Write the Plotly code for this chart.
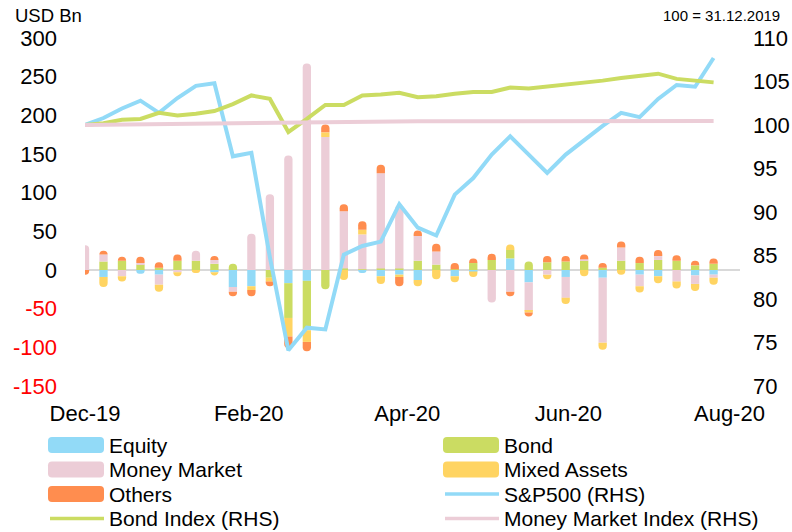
import plotly.graph_objects as go

# ---------------- data ----------------
dates = ["2019-12-01", "2019-12-08", "2019-12-15", "2019-12-22", "2019-12-29",
         "2020-01-05", "2020-01-12", "2020-01-19", "2020-01-26", "2020-02-02",
         "2020-02-09", "2020-02-16", "2020-02-23", "2020-03-01", "2020-03-08",
         "2020-03-15", "2020-03-22", "2020-03-29", "2020-04-05", "2020-04-12",
         "2020-04-19", "2020-04-26", "2020-05-03", "2020-05-10", "2020-05-17",
         "2020-05-24", "2020-05-31", "2020-06-07", "2020-06-14", "2020-06-21",
         "2020-06-28", "2020-07-05", "2020-07-12", "2020-07-19", "2020-07-26"]

equity = [0, -9, 0, -5, -6, 0, 0, -3, -22, -21, 0, -17, -14, 0, 0, -4, -8, -6,
          -13, 0, -8, -2, 0, 15, -16, 0, -9, 0, -10, 0, -6, -8, 0, -7, -6]
bond = [0, 11, 12, 7, 3, 12, 12, 8, 8, 0, -10, -45, -64, -25, 2, 1, 2, 2,
        12, 7, 1, 9, 13, 11, 11, 10, 11, 12, 3, 12, 9, 13, 12, 6, 8]
money_market = [32, 9, -8, 2, -13, -3, 13, 5, -6, 47, 98, 148, 267, 172, 74, 45,
                123, 82, 32, 17, 0, 0, -42, -28, -37, -6, -27, 2, -84, 17, -15,
                5, -15, -11, -4]
mixed_assets = [0, -13, -7, 0, -9, -5, -4, -4, 0, -5, -5, -24, -15, 6, -13, 6,
                -10, -3, -8, -12, -8, -7, 0, 7, -2, -6, -8, -8, -9, -6, -8, -9,
                -9, -9, -9]
others = [-6, 5, 5, 8, 7, 8, 0, 5, -6, -8, -6, -15, -12, 10, 9, 11, 11, -12, 7,
          10, 8, 6, 8, -6, -5, 8, 7, 6, 6, 8, 8, 8, 7, 6, 7]

sp500 = [100, 100.8, 101.9, 102.8, 101.4, 103.1, 104.5, 104.8, 96.4, 96.8,
         84.8, 74.1, 76.7, 76.5, 85.1, 86.1, 86.6, 90.9, 88.2, 87.3, 92.0,
         93.9, 96.6, 98.7, 96.6, 94.5, 96.6, 98.3, 99.9, 101.4, 100.9, 103.0,
         104.6, 104.4, 107.7]
bond_index = [100, 100.2, 100.6, 100.7, 101.4, 101.1, 101.3, 101.6, 102.4,
              103.4, 103.0, 99.2, 100.7, 102.3, 102.3, 103.4, 103.5, 103.7,
              103.2, 103.3, 103.6, 103.8, 103.8, 104.3, 104.2, 104.4, 104.6,
              104.8, 105.1, 105.4, 105.6, 105.9, 105.3, 105.1, 104.9]
mm_index = [100, 100.03, 100.06, 100.08, 100.1, 100.12, 100.14, 100.16, 100.18,
            100.22, 100.26, 100.32, 100.36, 100.38, 100.4, 100.41, 100.42,
            100.43, 100.43, 100.44, 100.44, 100.44, 100.45, 100.45, 100.45,
            100.45, 100.45, 100.45, 100.45, 100.45, 100.45, 100.45, 100.45,
            100.45, 100.45]

left_ticks = [-150, -100, -50, 0, 50, 100, 150, 200, 250, 300]
right_ticks = [70, 75, 80, 85, 90, 95, 100, 105, 110]

bar_series = [("Equity", equity, "#92DAF7"),
              ("Bond", bond, "#CBDC62"),
              ("Money Market", money_market, "#ECCDD7"),
              ("Mixed Assets", mixed_assets, "#FFD462"),
              ("Others", others, "#FF8D4F")]
line_series = [("S&P500 (RHS)", sp500, "#92DAF7"),
               ("Bond Index (RHS)", bond_index, "#CBDC62"),
               ("Money Market Index (RHS)", mm_index, "#ECCDD7")]

FONT = "Arial, Liberation Sans, sans-serif"

fig = go.Figure()
for name, vals, col in bar_series:
    fig.add_trace(go.Bar(x=dates, y=vals, name=name, marker_color=col,
                         marker_line_width=0, yaxis="y", showlegend=False))
for name, vals, col in line_series:
    fig.add_trace(go.Scatter(x=dates, y=vals, name=name, mode="lines",
                             line=dict(color=col, width=4), yaxis="y2",
                             showlegend=False))

# ---------------- layout geometry (pixels) ----------------
W, H = 792, 532
L, R, T, B = 85, 740, 38, 386
PW, PH = R - L, B - T


def px(x, y):
    return (x - L) / PW, (B - y) / PH


def rrect(x0, y0, x1, y1, r):
    def P(x, y):
        a, b = px(x, y)
        return f"{a:.5f},{b:.5f}"
    return (f"M {P(x0 + r, y0)} L {P(x1 - r, y0)} Q {P(x1, y0)} {P(x1, y0 + r)} "
            f"L {P(x1, y1 - r)} Q {P(x1, y1)} {P(x1 - r, y1)} "
            f"L {P(x0 + r, y1)} Q {P(x0, y1)} {P(x0, y1 - r)} "
            f"L {P(x0, y0 + r)} Q {P(x0, y0)} {P(x0 + r, y0)} Z")


shapes = []
annotations = []
legend_items = [(n, c, "bar") for n, _, c in bar_series] + \
               [(n, c, "line") for n, _, c in line_series]
col_x = [48, 443]
row_y = [445, 469.5, 494, 518.5]
for i, (name, col, kind) in enumerate(legend_items):
    cx = col_x[i % 2]
    cy = row_y[i // 2]
    if kind == "bar":
        shapes.append(dict(type="path", xref="paper", yref="paper",
                           path=rrect(cx, cy - 8, cx + 56, cy + 8, 4),
                           fillcolor=col, line=dict(width=0)))
    else:
        a0, b0 = px(cx + 2, cy)
        a1, b1 = px(cx + 56, cy)
        shapes.append(dict(type="line", xref="paper", yref="paper",
                           x0=a0, y0=b0, x1=a1, y1=b1,
                           line=dict(color=col, width=3.5)))
    tx, ty = px(cx + 59, cy)
    annotations.append(dict(text=name, xref="paper", yref="paper", x=tx, y=ty,
                            xanchor="left", yanchor="middle", showarrow=False,
                            font=dict(size=21, color="black", family=FONT)))

ux, uy = px(13, 15)
annotations.append(dict(text="USD Bn", xref="paper", yref="paper", x=ux, y=uy,
                        xanchor="left", yanchor="middle", showarrow=False,
                        font=dict(size=18.5, color="black", family=FONT)))
bx, by = px(782, 15)
annotations.append(dict(text="100 = 31.12.2019", xref="paper", yref="paper",
                        x=bx, y=by, xanchor="right", yanchor="middle",
                        showarrow=False,
                        font=dict(size=15, color="black", family=FONT)))

left_text = [f'<span style="color:#FF0000">{v}</span>' if v < 0 else str(v)
             for v in left_ticks]

fig.update_layout(
    width=W, height=H,
    margin=dict(l=L, r=W - R, t=T, b=H - B, pad=0, autoexpand=False),
    paper_bgcolor="white", plot_bgcolor="white",
    barmode="relative", bargap=0.55,
    font=dict(family=FONT, size=22, color="black"),
    showlegend=False,
    shapes=shapes, annotations=annotations,
    xaxis=dict(type="date", range=["2019-12-01", "2020-08-05"],
               tick0="2019-12-01", dtick="M2", tickformat="%b-%y",
               showgrid=False, showline=False, zeroline=False, ticks="",
               ticklabelstandoff=12, tickfont=dict(size=22), automargin=False),
    yaxis=dict(range=[-150, 300], tickvals=left_ticks, ticktext=left_text,
               showgrid=False, showline=False, ticks="",
               zeroline=True, zerolinecolor="#D9D9D9", zerolinewidth=2,
               ticklabelstandoff=27, tickfont=dict(size=22), automargin=False),
    yaxis2=dict(range=[70, 110], tickvals=right_ticks, overlaying="y",
                side="right", showgrid=False, showline=False, zeroline=False,
                ticks="", ticklabelstandoff=12, tickfont=dict(size=22),
                automargin=False),
)
fig.update_traces(marker_cornerradius=4, selector=dict(type="bar"))

fig.write_html("out.html",
               config={"displayModeBar": False},
               post_script="document.body.style.margin='0';"
                           "document.body.style.overflow='hidden';")
